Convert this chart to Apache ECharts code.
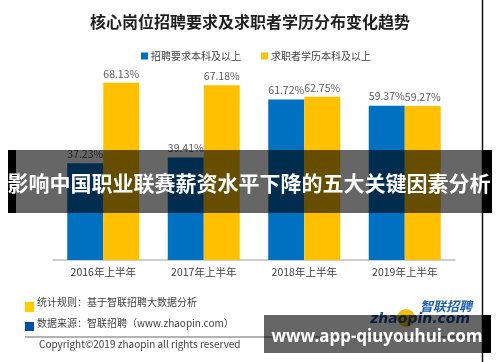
<!DOCTYPE html>
<html><head><meta charset="utf-8">
<script src="https://cdn.jsdelivr.net/npm/echarts@6/dist/echarts.min.js"></script>
<style>html,body{margin:0;padding:0;background:#fff}#c{width:500px;height:362px}</style>
</head><body><div id="c"></div>
<script>
const categories = ['2016年上半年', '2017年上半年', '2018年上半年', '2019年上半年'];
const recruitValues = [37.23, 39.41, 61.72, 59.37];
const seekerValues = [68.13, 67.18, 62.75, 59.27];
const seriesNames = ['招聘要求本科及以上', '求职者学历本科及以上'];

const cjk = '"Noto Sans CJK SC", "Noto Sans", sans-serif';
const chart = echarts.init(document.getElementById('c'));
const lbl = {show: true, position: 'top', distance: 4, color: '#595959', fontSize: 10.5, fontFamily: cjk,
  formatter: p => p.value.toFixed(2) + '%'};
chart.setOption({
  animation: false,
  title: {text: '核心岗位招聘要求及求职者学历分布变化趋势', left: 'center', top: 9,
    textStyle: {fontSize: 16, fontWeight: 'bold', color: '#1f1f1f', fontFamily: cjk}},
  legend: {left: 136, top: 46, itemWidth: 7, itemHeight: 7, itemGap: 20, icon: 'rect',
    textStyle: {fontSize: 10, color: '#404040', fontFamily: cjk, padding: [0,0,0,-2]}},
  grid: {left: 53, right: 45, top: 52, bottom: 102},
  xAxis: {type: 'category', data: categories,
    axisLine: {lineStyle: {color: '#bfbfbf', width: 1.5}}, axisTick: {show: false},
    axisLabel: {color: '#404040', fontSize: 10.5, fontFamily: cjk, margin: 7}},
  yAxis: {type: 'value', min: 0, max: 80, show: false},
  series: [
    {name: seriesNames[0], type: 'bar', data: recruitValues, barWidth: 36, barGap: '0%',
      itemStyle: {color: '#0070C0'}, label: lbl},
    {name: seriesNames[1], type: 'bar', data: seekerValues, barWidth: 36,
      itemStyle: {color: '#FFC000'}, label: lbl}
  ],
  graphic: [
    {type: 'rect', shape: {x: 25, y: 302, width: 9, height: 10}, style: {fill: '#FFCC00'}},
    {type: 'rect', shape: {x: 25, y: 322, width: 9, height: 9}, style: {fill: '#0050A0'}},
    {type: 'text', x: 37, y: 302, style: {text: '统计规则：基于智联招聘大数据分析', fontSize: 10, fill: '#404040', fontFamily: cjk, verticalAlign: 'middle'}},
    {type: 'text', x: 37, y: 323, style: {text: '数据来源：智联招聘（www.zhaopin.com）', fontSize: 10, fill: '#404040', fontFamily: cjk, verticalAlign: 'middle'}},
    {type: 'line', shape: {x1: 25, y1: 337, x2: 482, y2: 337}, style: {stroke: '#666', lineWidth: 1}},
    {type: 'text', x: 39, y: 344, style: {text: 'Copyright©2019 zhaopin all rights reserved', fontSize: 10, fill: '#404040', fontFamily: cjk, verticalAlign: 'middle'}},
    {type: 'circle', shape: {cx: 406, cy: 318, r: 9}, style: {fill: '#F0C000'}},
    {type: 'text', x: 472, y: 306, style: {text: '智联招聘', fontSize: 13, fontWeight: 'bold', fontStyle: 'italic', fill: '#1f5fb0', fontFamily: cjk, align: 'right', verticalAlign: 'middle'}},
    {type: 'text', x: 470, y: 319, style: {text: 'zhaopin.com', fontSize: 14, fontWeight: 'bold', fontStyle: 'italic', fill: '#1f4f9f', fontFamily: 'DejaVu Sans', align: 'right', verticalAlign: 'middle'}},
    {type: 'line', shape: {x1: 482.5, y1: 0, x2: 482.5, y2: 362}, style: {stroke: '#111', lineWidth: 1.5}},
    {type: 'rect', z: 100, shape: {x: 8, y: 150, width: 484, height: 63}, style: {fill: 'rgba(0,0,0,0.6)'}},
    {type: 'rect', z: 100, shape: {x: 8, y: 150, width: 8, height: 63}, style: {fill: '#000'}},
    {type: 'rect', z: 100, shape: {x: 483, y: 150, width: 9, height: 63}, style: {fill: '#000'}},
    {type: 'text', z: 101, x: 249, y: 183, style: {text: '影响中国职业联赛薪资水平下降的五大关键因素分析', fontSize: 21, fontWeight: 'bold', fill: '#fff', fontFamily: cjk, align: 'center', verticalAlign: 'middle'}},
    {type: 'rect', z: 100, shape: {x: 264, y: 315, width: 218, height: 38}, style: {fill: 'rgba(0,0,0,0.6)'}},
    {type: 'rect', z: 100, shape: {x: 482, y: 315, width: 9, height: 38}, style: {fill: '#000'}},
    {type: 'text', z: 101, x: 377, y: 337, style: {text: 'www.app-qiuyouhui.com', fontSize: 17, fontWeight: 'bold', fill: '#fff', fontFamily: '"Noto Sans", sans-serif', align: 'center', verticalAlign: 'middle'}}
  ]
});
</script></body></html>
